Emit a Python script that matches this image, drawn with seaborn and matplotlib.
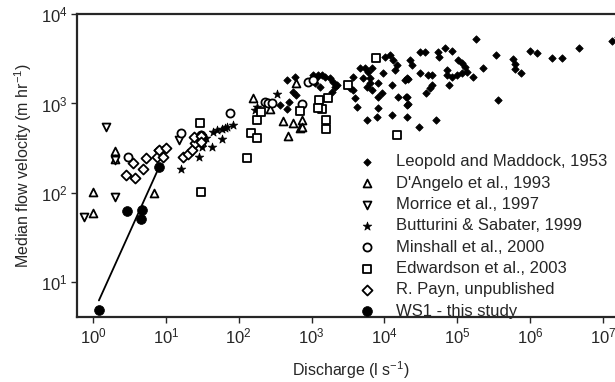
import numpy as np
import pandas as pd
import matplotlib
matplotlib.use("Agg")
import matplotlib.pyplot as plt
import seaborn as sns

# ---- data (discharge l/s, median velocity m/hr) ----
leopold_x = [7.6, 9.0, 462, 595, 559, 614, 462, 493, 370, 1194,
             1052, 1233, 1400, 1537, 1312, 1120, 1800, 1980, 2110, 1920, 2250,
             3720, 3720, 4230, 4650, 5450, 5990, 6800, 6380, 5110, 6380, 5800, 6800, 8220,
             10260, 12000, 13200, 15000, 14100, 9630, 9330, 8220, 8220, 12800, 15500,
             19900, 21200, 20600, 20600, 7960, 12800, 5800, 3390, 3970,
             31000, 36300, 54800, 56600, 68400, 85300, 182000, 343000, 22600, 24100,
             103000, 117000, 129000, 137000, 72900, 72900, 85300, 100000, 117000,
             31000, 40000, 45400, 20600, 19300, 77600, 166000, 228000, 45400, 42600,
             37500, 20600, 21200, 366000, 51500, 30100,
             588000, 626000, 626000, 757000, 1010000, 1256000, 2020000, 2770000,
             4740000, 13500000, 16000000]
leopold_y = [300, 310, 1830, 1980, 1340, 1240, 870, 1040, 960, 1980,
             2080, 2080, 2080, 1980, 1530, 1690, 1930, 1740, 1530, 1340, 1610,
             1980, 1420, 910, 2490, 2490, 2250, 2490, 1930, 1930, 1690, 1530, 1420, 1690,
             3310, 3480, 3060, 2690, 2370, 2190, 1310, 1180, 890, 1610, 1180,
             1180, 1880, 960, 710, 710, 740, 650, 1490, 1150,
             3760, 3760, 3760, 3310, 4170, 3860, 5260, 3480, 3060, 2690,
             3060, 2840, 2560, 2250, 2370, 2080, 1980, 2080, 2190,
             2190, 2080, 2080, 1930, 1830, 1610, 1980, 2490, 1610, 1490,
             1310, 1180, 990, 1090, 650, 545,
             3140, 2760, 2430, 2190, 3860, 3660, 3220, 3220,
             4170, 4990, 5600]

dangelo_x = [1.0, 1.0, 2.0, 2.0, 6.9, 158, 270, 614, 407, 559, 743, 697, 477, 743]
dangelo_y = [103, 60, 295, 240, 100, 1150, 870, 1690, 640, 610, 650, 530, 435, 540]

morrice_x = [0.75, 1.5, 2.0, 2.0, 15]
morrice_y = [54, 545, 235, 90, 390]

butturini_x = [16, 28, 31, 32, 35, 43, 44, 50, 59, 65, 84, 59, 168, 179, 337, 69]
butturini_y = [185, 250, 330, 370, 410, 330, 480, 505, 520, 530, 575, 400, 850, 910, 1280, 545]

minshall_x = [3.0, 16, 30, 76, 231, 254, 288, 743, 898, 1050]
minshall_y = [250, 470, 445, 780, 1040, 1010, 1010, 990, 1740, 1830]

edwardson_x = [29, 30, 130, 148, 179, 179, 203, 697, 1271, 1691, 1400, 1233,
               1588, 1588, 3180, 7710, 15000]
edwardson_y = [610, 103, 245, 470, 410, 650, 800, 820, 1090, 1150, 870, 890,
               650, 520, 1610, 3220, 445]

payn_x = [2.8, 3.5, 3.8, 4.9, 5.3, 7.6, 8.1, 9.2, 10, 17, 20, 23, 25, 24, 30, 30]
payn_y = [160, 215, 147, 185, 245, 250, 300, 250, 320, 250, 270, 300, 360, 420, 435, 370]

ws1_x = [1.2, 2.9, 4.7, 4.6, 8.1]
ws1_y = [4.9, 63, 65, 51, 195]

labels = ["Leopold and Maddock, 1953", "D'Angelo et al., 1993", "Morrice et al., 1997",
          "Butturini & Sabater, 1999", "Minshall et al., 2000", "Edwardson et al., 2003",
          "R. Payn, unpublished", "WS1 - this study"]

# ---- style ----
sns.set_style("ticks")
plt.rcParams["font.family"] = ["Liberation Sans", "DejaVu Sans"]
plt.rcParams["mathtext.fontset"] = "custom"
plt.rcParams["mathtext.rm"] = "Liberation Sans"
plt.rcParams["mathtext.it"] = "Liberation Sans:italic"
plt.rcParams["mathtext.default"] = "regular"

fig = plt.figure(figsize=(6.15, 3.82), dpi=100)
ax = fig.add_axes([0.1252, 0.1702, 0.8906, 0.7932])

series = [
    (leopold_x, leopold_y, "D", "black", 14, 0.6),
    (dangelo_x, dangelo_y, "^", "white", 32, 1.3),
    (morrice_x, morrice_y, "v", "white", 32, 1.3),
    (butturini_x, butturini_y, "*", "black", 42, 0.5),
    (minshall_x, minshall_y, "o", "white", 34, 1.3),
    (edwardson_x, edwardson_y, "s", "white", 30, 1.3),
    (payn_x, payn_y, "D", "white", 26, 1.3),
    (ws1_x, ws1_y, "o", "black", 50, 0.5),
]

for (xs, ys, mk, fc, s, lw), lab in zip(series, labels):
    df = pd.DataFrame({"x": xs, "y": ys})
    sns.scatterplot(data=df, x="x", y="y", ax=ax, marker=mk, s=s,
                    color=fc, edgecolor="black", linewidth=lw, label=lab,
                    zorder=3, clip_on=True)

# regression line for WS1 in log space
lx = np.log10(ws1_x)
ly = np.log10(ws1_y)
b, a = np.polyfit(lx, ly, 1)
xx = np.linspace(lx.min(), lx.max() * 0.98, 20)
sns.lineplot(x=10 ** xx, y=10 ** (a + b * xx), ax=ax, color="black", lw=1.3,
             zorder=2, legend=False)

ax.set_xscale("log")
ax.set_yscale("log")
ax.set_xlim(0.6, 2.0e7)
ax.set_ylim(4.11, 1e4)
ax.set_xticks([10 ** k for k in range(0, 8)])
ax.set_yticks([10 ** k for k in range(1, 5)])
ax.xaxis.set_minor_locator(matplotlib.ticker.NullLocator())
ax.yaxis.set_minor_locator(matplotlib.ticker.NullLocator())
ax.tick_params(axis="both", which="major", direction="out", length=4, width=1,
               labelsize=12, pad=3)
for sp in ["left", "bottom", "top"]:
    ax.spines[sp].set_linewidth(1.6)
ax.spines["right"].set_visible(False)

ax.set_xlabel("Discharge (l s$^{-1}$)", fontsize=11.5, labelpad=9)
ax.set_ylabel("Median flow velocity (m hr$^{-1}$)", fontsize=11.5, labelpad=5)

leg = ax.legend(loc="upper left", bbox_to_anchor=(349 / 615, 1 - 146 / 382),
                bbox_transform=fig.transFigure, frameon=False, fontsize=12,
                handletextpad=1.14, labelspacing=0.38, borderpad=0, handlelength=1.2)

fig.savefig("out.png", dpi=100)
